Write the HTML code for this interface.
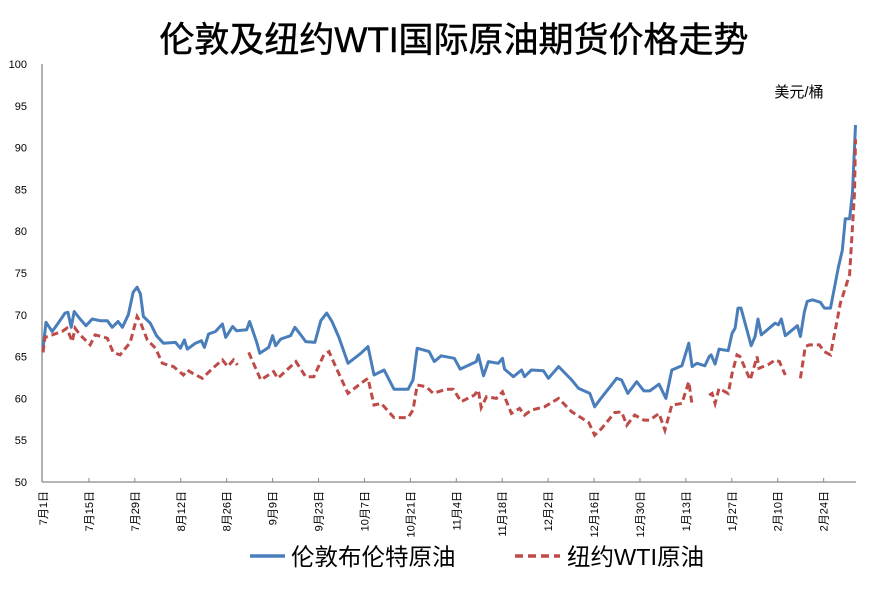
<!DOCTYPE html>
<html><head><meta charset="utf-8"><style>
html,body{margin:0;padding:0;background:#fff}
svg{display:block;font-family:"Liberation Sans","Noto Sans CJK SC",sans-serif}
</style></head><body>
<svg id="c" width="871" height="601" viewBox="0 0 871 601">
<text x="454" y="52" text-anchor="middle" font-size="35" font-weight="normal" fill="#000" stroke="#000" stroke-width="0.5">伦敦及纽约WTI国际原油期货价格走势</text>
<text x="799" y="97" text-anchor="middle" font-size="15" fill="#000">美元/桶</text>
<g id="axes"></g><g id="series"></g>
<g>
<line x1="250" y1="556" x2="285" y2="556" stroke="#4a7ebb" stroke-width="3.5"/>
<text x="291" y="565" font-size="23.5" fill="#000">伦敦布伦特原油</text>
<line x1="515" y1="556" x2="560" y2="556" stroke="#be4b48" stroke-width="3.5" stroke-dasharray="8,5"/>
<text x="567" y="565" font-size="23.5" fill="#000">纽约WTI原油</text>
</g>
</svg>
<script>
const yTicks=[50,55,60,65,70,75,80,85,90,95,100];
const xTickLabels=["7月1日","7月15日","7月29日","8月12日","8月26日","9月9日","9月23日","10月7日","10月21日","11月4日","11月18日","12月2日","12月16日","12月30日","1月13日","1月27日","2月10日","2月24日"];
const xTickDays=[0,14,28,42,56,70,84,98,112,126,140,154,168,182,196,210,224,238];
const brentDays=[0,0.9,2.8,4.6,6.7,7.6,8.6,9.5,11.3,13.1,15,17.4,19.6,21.1,22.9,24.2,26,27.5,28.7,29.7,30.6,32.7,34.6,36.7,40.4,41.9,43.1,44,46.5,48.3,49.2,50.5,52.6,54.7,55.7,57.8,59,62.1,63,65.1,66.1,68.8,70,70.9,72.5,75.5,76.8,78.6,80.1,82.9,84.7,86.5,88.1,90.2,93,96.9,99.1,100.9,104,107,111.3,112.8,114.1,117.7,119.3,121.4,125.4,127.2,132.1,132.7,134.3,135.8,138.8,140.1,140.7,143.4,145.9,146.8,148.9,152.6,154.1,157.2,161.2,163.3,166.7,168.2,169.7,174.9,176.4,178.3,181,183.2,185,187.8,189.9,191.7,194.8,196.9,197.9,199.4,201.8,203.1,203.7,204.9,206.1,208.9,210.1,211,211.9,212.8,215.9,217.1,218,219,221.4,223.2,224.2,225.1,226.3,230,230.9,232.1,233,234.6,237,238.2,240.1,242.5,243.7,244.6,245.9,246.8,247.7];
const brentValues=[66,69.1,68,69,70.2,70.3,68.5,70.4,69.5,68.7,69.5,69.3,69.3,68.5,69.2,68.5,70,72.7,73.3,72.5,69.8,69,67.5,66.6,66.7,66,67,65.9,66.6,66.9,66.1,67.7,68,68.9,67.3,68.6,68.1,68.2,69.2,66.8,65.4,66.1,67.5,66.3,67.1,67.5,68.5,67.6,66.8,66.7,69.3,70.2,69.2,67.3,64.2,65.4,66.2,62.8,63.4,61.1,61.1,62.2,66,65.6,64.4,65.1,64.8,63.5,64.4,65.2,62.7,64.4,64.2,64.8,63.5,62.6,63.4,62.6,63.4,63.3,62.4,63.8,62.2,61.2,60.6,59,59.8,62.4,62.2,60.6,62,60.9,60.9,61.7,60,63.4,63.9,66.6,63.8,64.2,63.9,65,65.2,64.1,65.9,65.7,67.8,68.4,70.8,70.8,66.3,67.4,69.5,67.6,68.4,69,68.8,69.5,67.5,68.7,67.4,70.3,71.6,71.8,71.5,70.8,70.8,75.7,77.7,81.5,81.5,84.6,92.7];
const wtiDays=[0,0.6,5.8,7.3,8.9,9.8,11.3,14.4,15.9,19.6,21.4,23.5,26.6,28.7,29.7,31.8,34.3,36.4,39.8,42.8,44,45.6,48.6,51.7,54.7,56.3,58.1,59.3,61,62.7,66.4,70.3,71.6,77.1,80.1,82.6,85.6,87.2,89.9,93,96.9,99.1,100.9,103.1,107,111.3,112.8,114.1,116.8,119,122.9,125.1,127.5,131.5,132.7,133.6,135.2,138.2,140.1,142.8,145.3,146.8,148.9,152.9,157.2,161.2,166.4,168.2,170.3,174.3,176.4,178,180.4,183.2,185,187.8,189.6,191.7,194.8,196.9,197.9,200,203.1,204,204.9,206.1,208.9,210.1,211.6,212.5,215.6,217.7,218.3,221.4,223.2,224.5,226.3,228,230.9,232.4,233.6,236.7,238.2,240.1,243.1,245.9,247.4,247.7];
const wtiValues=[65.5,67.3,68,68.4,66.8,68.4,67.6,66.4,67.6,67.2,65.5,65.2,66.7,69.8,69.1,67,66,64.2,63.8,62.8,63.4,63,62.4,63.6,64.6,63.8,64.6,64,null,65.5,62.2,63.2,62.4,64.4,62.6,62.6,65.2,65.6,63.2,60.6,61.8,62.4,59.2,59.4,57.7,57.7,58.6,61.6,61.4,60.6,61.1,61.1,59.6,60.4,61,58.9,60.2,60,60.8,58.2,58.8,58,58.6,59,60,58.4,57.1,55.6,56.4,58.3,58.4,56.8,58,57.4,57.4,58.2,56.2,59.2,59.4,62,59.2,null,60.4,60.6,59.4,61.2,60.6,63,65.2,65,62.2,65,63.6,64.1,64.6,64.4,62.8,null,62.4,66.2,66.4,66.4,65.6,65.2,71.4,74.8,84.6,91];

const NS="http://www.w3.org/2000/svg";
const X0=42,Y0=482,YT=64,PXD=3.28;
function xs(d){return X0+1+d*PXD;}
function ys(v){return Y0-(v-50)*(Y0-YT)/50;}
function mk(tag,attrs,parent){const e=document.createElementNS(NS,tag);for(const k in attrs)e.setAttribute(k,attrs[k]);parent.appendChild(e);return e;}
const axes=document.getElementById('axes'),ser=document.getElementById('series');
const ya=mk('line',{x1:X0,y1:YT,x2:X0,y2:Y0,stroke:'#898989','stroke-width':1.3},axes);


const xa=mk('line',{x1:X0,y1:Y0,x2:856,y2:Y0,stroke:'#898989','stroke-width':1.3},axes);


yTicks.forEach(v=>{
  const t=mk('text',{x:27,y:ys(v)+4,'text-anchor':'end','font-size':11,fill:'#000'},axes);
  t.textContent=v;
  
  
});
xTickDays.forEach((d,i)=>{
  const x=xs(d);
  if(i>0){const tk=mk('line',{x1:x,y1:Y0,x2:x,y2:Y0-4,stroke:'#898989','stroke-width':1},axes);
  
  }
  const t=mk('text',{x:0,y:0,'text-anchor':'end','font-size':11,fill:'#000',transform:`translate(${x+4},${Y0+9}) rotate(-90)`},axes);
  t.textContent=xTickLabels[i];
  
  
});
function paths(days,vals){let segs=[],cur='';days.forEach((d,i)=>{const v=vals[i];if(v===null){if(cur)segs.push(cur);cur='';return;}cur+=(cur?'L':'M')+xs(d).toFixed(1)+','+ys(v).toFixed(1);});if(cur)segs.push(cur);return segs.join(' ');}
const pb=mk('path',{d:paths(brentDays,brentValues),fill:'none',stroke:'#4a7ebb','stroke-width':3,'stroke-linejoin':'round'},ser);


const pw=mk('path',{d:paths(wtiDays,wtiValues),fill:'none',stroke:'#be4b48','stroke-width':3,'stroke-dasharray':'7,4'},ser);


</script>
</body></html>
